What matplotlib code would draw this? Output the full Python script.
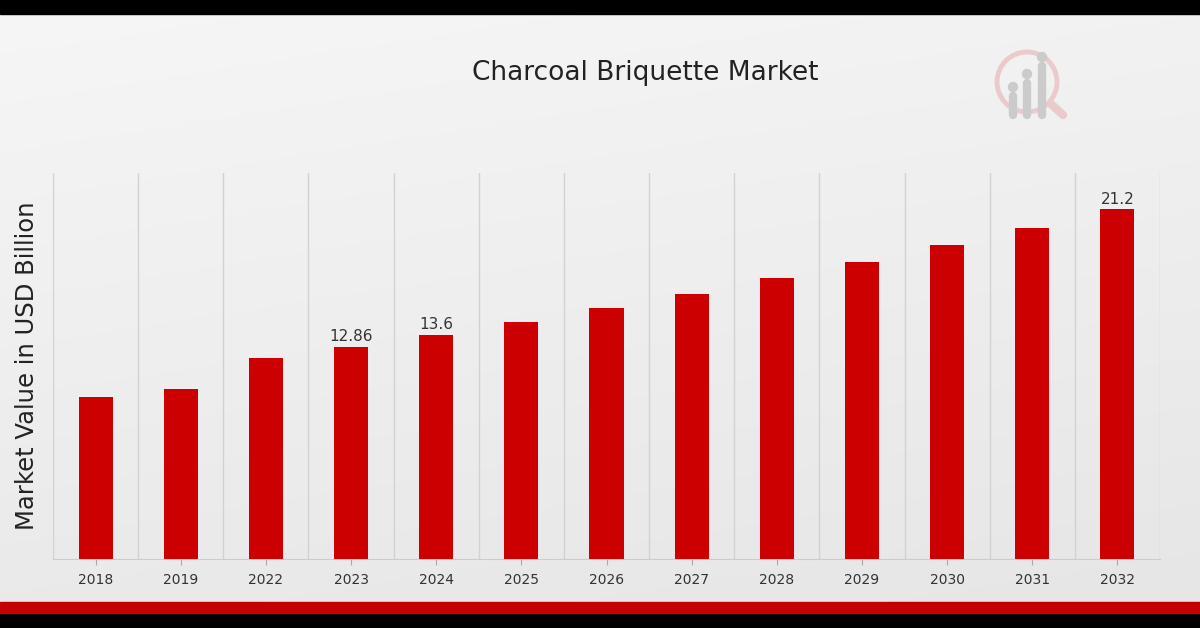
import matplotlib
matplotlib.use("Agg")
import matplotlib.pyplot as plt
import numpy as np
from matplotlib.patches import Rectangle, Ellipse

years = ["2018", "2019", "2022", "2023", "2024", "2025", "2026", "2027", "2028", "2029", "2030", "2031", "2032"]
values = [9.82, 10.31, 12.19, 12.86, 13.6, 14.37, 15.22, 16.07, 17.04, 18.01, 19.04, 20.07, 21.2]
labeled = {"2023": "12.86", "2024": "13.6", "2032": "21.2"}

W, H = 1200, 628
fig = plt.figure(figsize=(W / 100, H / 100), dpi=100)

# background gradient (pixel coordinates, y down)
bg = fig.add_axes([0, 0, 1, 1], zorder=-10)
yy, xx = np.mgrid[0:1:200j, 0:1:200j]
grad = 0.965 - 0.05 * yy - 0.015 * xx
bg.imshow(np.dstack([grad, grad, grad]), extent=[0, W, H, 0], aspect="auto")
bg.set_xlim(0, W); bg.set_ylim(H, 0)
bg.axis("off")

# bands
bg.add_patch(Rectangle((0, 0), W, 14, color="black", zorder=5))
bg.add_patch(Rectangle((0, 613), W, 15, color="black", zorder=5))
bg.add_patch(Rectangle((0, 602), W, 11, color="#c40000", zorder=5))

# logo
cx, cy = 1027, 82
bg.add_patch(Ellipse((cx, cy), 60, 60, fill=False, ec="#eacaca", lw=3.5, zorder=6))
bg.plot([cx + 24, cx + 36], [cy + 22, cy + 33], color="#eacaca", lw=6,
        solid_capstyle="round", zorder=6)
for x0, ytop in [(1013, 87), (1027, 74), (1042, 57)]:
    bg.plot([x0, x0], [115, ytop + 9], color="#cbcbcb", lw=6, solid_capstyle="round", zorder=7)
    bg.add_patch(Ellipse((x0, ytop), 9, 9, color="#cbcbcb", zorder=7))

ax = fig.add_axes([53 / W, 1 - 559 / H, 1107 / W, 386 / H])
ax.set_facecolor("none")
x = np.arange(len(years))
ax.bar(x, values, width=0.4, color="#cc0000", zorder=3)
for xi, y, v in zip(x, years, values):
    if y in labeled:
        ax.text(xi, v + 0.15, labeled[y], ha="center", va="bottom", fontsize=11, color="#333333")

ax.set_xlim(-0.5, len(years) - 0.5)
ax.set_ylim(0, 23.4)
ax.set_xticks(x)
ax.set_xticklabels(years, fontsize=10, color="#333333")
ax.set_xticks(np.arange(-0.5, len(years)), minor=True)
ax.grid(True, which="minor", axis="x", color="#d2d2d2", lw=1, zorder=0)
ax.tick_params(axis="x", which="major", length=4, color="#aaaaaa", pad=6)
ax.tick_params(axis="x", which="minor", length=0)
ax.set_yticks([])
for s in ["top", "right", "left"]:
    ax.spines[s].set_visible(False)
ax.spines["bottom"].set_color("#cccccc")

ax.set_ylabel("Market Value in USD Billion", fontsize=17.5, color="#222222", labelpad=10)
fig.text(645 / W, 1 - 73 / H, "Charcoal Briquette Market", ha="center", va="center",
         fontsize=19, color="#222222")

fig.savefig("out.png", dpi=100)
